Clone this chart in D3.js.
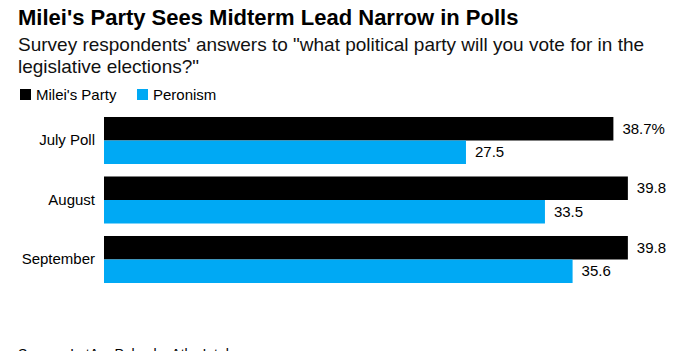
<!DOCTYPE html>
<html>
<head>
<meta charset="utf-8">
<script src="https://cdn.jsdelivr.net/npm/d3@7"></script>
<style>
  body { margin: 0; background: #fff; overflow: hidden; }
  svg { display: block; font-family: "Liberation Sans", Arial, sans-serif; }
</style>
</head>
<body>
<div id="chart"></div>
<script>
// Data
const polls = ["July Poll", "August", "September"];
const series = ["Milei's Party", "Peronism"];
const mileiValues = [38.7, 39.8, 39.8];
const peronismValues = [27.5, 33.5, 35.6];
const seriesColors = ["#000000", "#00a9f4"];

const subtitleLines = [
  "Survey respondents' answers to \"what political party will you vote for in the",
  "legislative elections?\""
];

function drawChart() {
  const width = 700, height = 351;

  const svg = d3.select("#chart")
    .append("svg")
    .attr("width", width)
    .attr("height", height);

  // title + subtitle
  svg.append("text")
    .attr("x", 18)
    .attr("y", 25)
    .attr("font-size", 22)
    .attr("font-weight", "bold")
    .attr("fill", "#000")
    .text("Milei's Party Sees Midterm Lead Narrow in Polls");

  svg.append("g").selectAll("text")
    .data(subtitleLines)
    .enter().append("text")
    .attr("x", 18)
    .attr("y", (d, i) => 51 + i * 22)
    .attr("font-size", 19)
    .attr("fill", "#111")
    .text(d => d);

  // legend
  const legendX = [20, 137];
  const legend = svg.append("g")
    .selectAll("g")
    .data(series)
    .enter().append("g")
    .attr("transform", (d, i) => `translate(${legendX[i]},89)`);

  legend.append("rect")
    .attr("width", 11)
    .attr("height", 11)
    .attr("fill", (d, i) => seriesColors[i]);

  legend.append("text")
    .attr("x", 16)
    .attr("y", 11)
    .attr("font-size", 15)
    .attr("fill", "#000")
    .text(d => d);

  // scales
  const x = d3.scaleLinear()
    .domain([0, 40])
    .range([104, 630.5]);

  const y = d3.scaleBand()
    .domain(polls)
    .range([110.75, 289.25])
    .paddingInner(0.21)
    .paddingOuter(0.105);

  const ySub = d3.scaleBand()
    .domain(series)
    .range([0, y.bandwidth()]);

  const data = polls.map((p, i) => ({
    poll: p,
    values: [
      { key: series[0], value: mileiValues[i], first: i === 0 },
      { key: series[1], value: peronismValues[i], first: false }
    ]
  }));

  // category axis (labels only)
  const yAxis = d3.axisLeft(y).tickSize(0).tickPadding(9);
  const axisG = svg.append("g")
    .attr("transform", `translate(${x(0)},0)`)
    .call(yAxis);
  axisG.select(".domain").remove();
  axisG.selectAll("text")
    .attr("font-size", 15)
    .attr("font-family", "Liberation Sans, Arial, sans-serif")
    .attr("fill", "#000");

  const groups = svg.append("g")
    .selectAll("g")
    .data(data)
    .enter().append("g")
    .attr("transform", d => `translate(0,${y(d.poll)})`);

  groups.selectAll("rect")
    .data(d => d.values)
    .enter().append("rect")
    .attr("x", x(0))
    .attr("y", d => ySub(d.key))
    .attr("width", d => x(d.value) - x(0))
    .attr("height", ySub.bandwidth())
    .attr("fill", d => seriesColors[series.indexOf(d.key)]);

  groups.selectAll("text.val")
    .data(d => d.values)
    .enter().append("text")
    .attr("class", "val")
    .attr("x", d => x(d.value) + 9)
    .attr("y", d => ySub(d.key) + ySub.bandwidth() / 2)
    .attr("dy", "0.35em")
    .attr("font-size", 15)
    .attr("fill", "#000")
    .text(d => d.value.toFixed(1) + (d.first ? "%" : ""));

  // source line, cut off at the bottom edge like the original
  svg.append("text")
    .attr("x", 18)
    .attr("y", 359)
    .attr("font-size", 14)
    .attr("fill", "#000")
    .text("Source: LatAm Pulse by AtlasIntel");
}

document.addEventListener("DOMContentLoaded", drawChart);
</script>
</body>
</html>
